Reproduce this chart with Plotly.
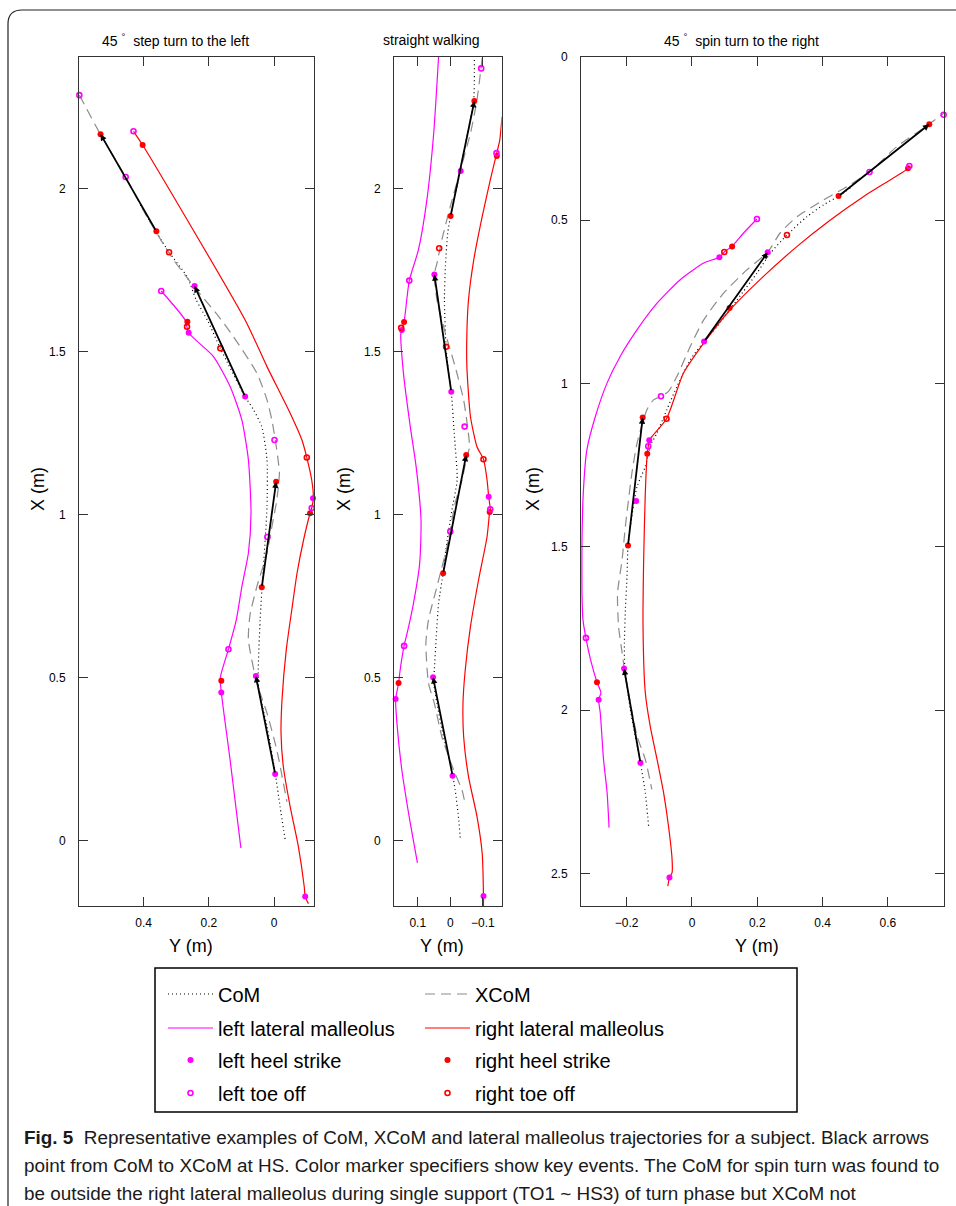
import plotly.graph_objects as go

# ---------------- Panel 1: 45° step turn to the left ----------------
p1_com_X = [1.951, 1.864, 1.806, 1.731, 1.660, 1.592, 1.511, 1.363, 1.322, 1.271, 1.169, 1.025, 0.841, 0.678, 0.473, 0.351, 0.208, 0.105, 0.001]
p1_com_Y = [0.410, 0.359, 0.322, 0.267, 0.239, 0.202, 0.165, 0.089, 0.063, 0.038, 0.022, 0.022, 0.033, 0.043, 0.048, 0.022, -0.003, -0.018, -0.034]
p1_xcom_X = [2.288, 2.169, 2.037, 1.915, 1.782, 1.690, 1.610, 1.547, 1.435, 1.353, 1.291, 1.199, 1.128, 1.046, 0.964, 0.883, 0.780, 0.693, 0.617, 0.484, 0.392, 0.279, 0.120]
p1_xcom_Y = [0.597, 0.533, 0.455, 0.390, 0.308, 0.237, 0.171, 0.125, 0.053, 0.022, 0.007, -0.008, -0.016, -0.008, 0.007, 0.022, 0.053, 0.074, 0.079, 0.053, 0.022, -0.008, -0.039]
p1_lm_X = [1.687, 1.598, 1.559, 1.486, 1.394, 1.291, 1.169, 1.005, 0.883, 0.780, 0.678, 0.588, 0.501, 0.455, 0.248, -0.022]
p1_lm_Y = [0.346, 0.273, 0.262, 0.186, 0.135, 0.099, 0.079, 0.071, 0.079, 0.099, 0.116, 0.140, 0.165, 0.162, 0.135, 0.102]
p1_rm_X = [2.177, 2.135, 1.598, 1.455, 1.312, 1.230, 1.176, 1.107, 1.051, 1.021, 1.005, 0.923, 0.821, 0.709, 0.586, 0.433, 0.330, 0.228, 0.105, -0.017, -0.140, -0.171, -0.193]
p1_rm_Y = [0.431, 0.403, 0.089, 0.022, -0.049, -0.085, -0.100, -0.115, -0.120, -0.115, -0.110, -0.090, -0.070, -0.054, -0.037, -0.024, -0.021, -0.028, -0.049, -0.074, -0.092, -0.095, -0.105]
p1_arrow_tail_X = [1.870, 1.363, 0.778, 0.205]
p1_arrow_tail_Y = [0.361, 0.089, 0.038, -0.003]
p1_arrow_head_X = [2.168, 1.702, 1.102, 0.506]
p1_arrow_head_Y = [0.532, 0.244, -0.006, 0.056]
p1_lhs_X = [1.702, 1.363, 1.051, 1.559, 0.455, 0.506, 0.205, -0.171]
p1_lhs_Y = [0.244, 0.089, -0.119, 0.262, 0.162, 0.056, -0.003, -0.095]
p1_lto_X = [2.288, 2.177, 1.687, 2.037, 1.230, 0.932, 1.021, 0.588]
p1_lto_Y = [0.597, 0.431, 0.346, 0.455, -0.001, 0.021, -0.115, 0.140]
p1_rhs_X = [2.168, 2.135, 1.870, 1.593, 1.102, 0.778, 1.005, 0.491]
p1_rhs_Y = [0.532, 0.403, 0.361, 0.266, -0.006, 0.038, -0.110, 0.162]
p1_rto_X = [1.806, 1.577, 1.511, 1.176]
p1_rto_Y = [0.322, 0.267, 0.165, -0.100]

# ---------------- Panel 2: straight walking ----------------
p2_com_X = [2.396, 2.273, 2.150, 2.028, 1.917, 1.864, 1.762, 1.660, 1.516, 1.435, 1.378, 1.251, 1.107, 1.015, 0.883, 0.821, 0.729, 0.627, 0.525, 0.484, 0.422, 0.320, 0.238, 0.156, 0.064, 0.003]
p2_com_Y = [-0.074, -0.072, -0.049, -0.025, -0.001, 0.008, 0.015, 0.018, 0.013, 0.005, -0.003, -0.012, -0.021, -0.005, 0.015, 0.022, 0.036, 0.043, 0.049, 0.051, 0.041, 0.021, 0.000, -0.015, -0.026, -0.031]
p2_xcom_X = [2.401, 2.273, 2.171, 2.058, 1.946, 1.844, 1.772, 1.738, 1.660, 1.557, 1.455, 1.353, 1.271, 1.209, 1.169, 1.107, 1.036, 0.903, 0.780, 0.678, 0.606, 0.484, 0.422, 0.320, 0.218, 0.156, 0.126]
p2_xcom_Y = [-0.098, -0.082, -0.062, -0.031, 0.000, 0.026, 0.041, 0.049, 0.041, 0.015, -0.015, -0.041, -0.053, -0.059, -0.049, -0.036, -0.015, 0.010, 0.041, 0.067, 0.075, 0.067, 0.049, 0.026, -0.010, -0.036, -0.043]
p2_lm_X = [2.406, 2.171, 1.966, 1.813, 1.719, 1.592, 1.567, 1.557, 1.435, 1.271, 1.148, 0.985, 0.852, 0.729, 0.657, 0.598, 0.525, 0.484, 0.458, 0.435, 0.361, 0.218, 0.054, -0.068]
p2_lm_Y = [0.036, 0.051, 0.072, 0.098, 0.126, 0.142, 0.149, 0.152, 0.144, 0.123, 0.105, 0.090, 0.094, 0.113, 0.128, 0.142, 0.154, 0.159, 0.164, 0.168, 0.164, 0.149, 0.123, 0.101]
p2_rm_X = [2.222, 2.150, 2.107, 2.028, 1.915, 1.782, 1.660, 1.557, 1.455, 1.302, 1.209, 1.171, 1.107, 1.056, 1.017, 1.009, 0.933, 0.801, 0.657, 0.525, 0.422, 0.320, 0.197, 0.075, -0.038, -0.169, -0.202]
p2_rm_Y = [-0.159, -0.152, -0.142, -0.123, -0.098, -0.072, -0.056, -0.051, -0.051, -0.062, -0.082, -0.102, -0.113, -0.118, -0.123, -0.121, -0.113, -0.087, -0.062, -0.046, -0.039, -0.041, -0.056, -0.082, -0.098, -0.102, -0.102]
p2_arrow_tail_X = [1.917, 1.378, 0.821, 0.200]
p2_arrow_tail_Y = [-0.001, -0.003, 0.022, -0.007]
p2_arrow_head_X = [2.270, 1.738, 1.184, 0.502]
p2_arrow_head_Y = [-0.074, 0.049, -0.049, 0.053]
p2_lhs_X = [2.055, 1.738, 1.378, 1.567, 1.056, 0.502, 0.200, 0.435, -0.169]
p2_lhs_Y = [-0.032, 0.049, -0.003, 0.149, -0.118, 0.053, -0.007, 0.168, -0.102]
p2_lto_X = [2.370, 1.719, 1.271, 2.110, 0.949, 1.017, 0.598]
p2_lto_Y = [-0.095, 0.126, -0.044, -0.142, 0.000, -0.123, 0.142]
p2_rhs_X = [2.270, 1.917, 2.101, 1.592, 1.184, 0.821, 1.009, 0.484]
p2_rhs_Y = [-0.074, -0.001, -0.143, 0.142, -0.049, 0.022, -0.121, 0.159]
p2_rto_X = [1.818, 1.574, 1.516, 1.171]
p2_rto_Y = [0.034, 0.151, 0.013, -0.102]

# ---------------- Panel 3: 45° spin turn to the right ----------------
p3_com_X = [0.401, 0.426, 0.453, 0.489, 0.545, 0.601, 0.662, 0.744, 0.825, 0.871, 0.927, 1.009, 1.080, 1.151, 1.192, 1.254, 1.315, 1.437, 1.496, 1.590, 1.692, 1.794, 1.866, 1.998, 2.161, 2.253, 2.355]
p3_com_Y = [0.485, 0.449, 0.403, 0.352, 0.291, 0.240, 0.199, 0.138, 0.077, 0.037, -0.005, -0.046, -0.077, -0.107, -0.128, -0.143, -0.168, -0.189, -0.196, -0.199, -0.204, -0.207, -0.206, -0.189, -0.158, -0.143, -0.133]
p3_xcom_X = [0.162, 0.218, 0.274, 0.352, 0.397, 0.438, 0.489, 0.539, 0.598, 0.652, 0.723, 0.805, 0.886, 0.978, 1.024, 1.039, 1.050, 1.080, 1.182, 1.274, 1.437, 1.539, 1.641, 1.743, 1.825, 1.896, 2.080, 2.151, 2.243]
p3_xcom_Y = [0.786, 0.709, 0.628, 0.544, 0.475, 0.403, 0.322, 0.270, 0.232, 0.168, 0.097, 0.036, -0.005, -0.046, -0.072, -0.095, -0.118, -0.138, -0.168, -0.184, -0.204, -0.214, -0.228, -0.225, -0.214, -0.204, -0.168, -0.143, -0.123]
p3_lm_X = [0.496, 0.539, 0.580, 0.597, 0.613, 0.631, 0.682, 0.754, 0.835, 0.917, 0.998, 1.101, 1.203, 1.335, 1.488, 1.641, 1.723, 1.779, 1.845, 1.915, 1.947, 1.968, 2.008, 2.151, 2.253, 2.360]
p3_lm_Y = [0.199, 0.158, 0.123, 0.099, 0.084, 0.036, -0.036, -0.107, -0.168, -0.220, -0.260, -0.296, -0.322, -0.333, -0.337, -0.337, -0.334, -0.325, -0.311, -0.291, -0.279, -0.286, -0.281, -0.271, -0.260, -0.254]
p3_rm_X = [0.334, 0.341, 0.427, 0.499, 0.580, 0.672, 0.774, 0.876, 0.968, 1.108, 1.174, 1.192, 1.215, 1.335, 1.539, 1.743, 1.947, 2.049, 2.151, 2.253, 2.355, 2.457, 2.498, 2.513, 2.539]
p3_rm_Y = [0.666, 0.662, 0.526, 0.424, 0.322, 0.219, 0.117, 0.036, -0.026, -0.078, -0.131, -0.134, -0.137, -0.143, -0.148, -0.150, -0.143, -0.128, -0.107, -0.087, -0.072, -0.061, -0.061, -0.069, -0.074]
p3_arrow_tail_X = [0.426, 0.871, 1.496, 2.161]
p3_arrow_tail_Y = [0.449, 0.037, -0.196, -0.158]
p3_arrow_head_X = [0.206, 0.598, 1.104, 1.873]
p3_arrow_head_Y = [0.727, 0.232, -0.151, -0.208]
p3_lhs_X = [0.598, 0.613, 0.871, 1.174, 1.360, 1.873, 2.161, 1.968, 2.513]
p3_lhs_Y = [0.232, 0.084, 0.037, -0.131, -0.171, -0.208, -0.158, -0.286, -0.069]
p3_lto_X = [0.177, 0.352, 0.334, 0.496, 1.039, 1.192, 1.779]
p3_lto_Y = [0.771, 0.544, 0.666, 0.199, -0.095, -0.134, -0.325]
p3_rhs_X = [0.206, 0.426, 0.341, 0.769, 0.580, 1.104, 1.215, 1.496, 1.915]
p3_rhs_Y = [0.727, 0.449, 0.662, 0.115, 0.123, -0.151, -0.137, -0.196, -0.291]
p3_rto_X = [0.545, 0.597, 1.108]
p3_rto_Y = [0.291, 0.099, -0.078]

panel_titles = ["45 <sup>°</sup>  step turn to the left", "straight walking", "45 <sup>°</sup>  spin turn to the right"]
legend_names = ["CoM", "XCoM", "left lateral malleolus", "right lateral malleolus",
                "left heel strike", "right heel strike", "left toe off", "right toe off"]
caption_lines = [
    "<b>Fig. 5</b>  Representative examples of CoM, XCoM and lateral malleolus trajectories for a subject. Black arrows",
    "point from CoM to XCoM at HS. Color marker specifiers show key events. The CoM for spin turn was found to",
    "be outside the right lateral malleolus during single support (TO1 ~ HS3) of turn phase but XCoM not",
]

# ---------------- Figure ----------------
W, H = 956, 1206
MAG, RED = "#FF00FF", "#FF0000"
FONT = "Liberation Sans, Arial, sans-serif"


def px(x):
    return x / W


def py(y):
    return 1 - y / H


fig = go.Figure()

panels = [
    dict(com=(p1_com_X, p1_com_Y), xcom=(p1_xcom_X, p1_xcom_Y), lm=(p1_lm_X, p1_lm_Y), rm=(p1_rm_X, p1_rm_Y),
         tail=(p1_arrow_tail_X, p1_arrow_tail_Y), head=(p1_arrow_head_X, p1_arrow_head_Y),
         lhs=(p1_lhs_X, p1_lhs_Y), lto=(p1_lto_X, p1_lto_Y), rhs=(p1_rhs_X, p1_rhs_Y), rto=(p1_rto_X, p1_rto_Y)),
    dict(com=(p2_com_X, p2_com_Y), xcom=(p2_xcom_X, p2_xcom_Y), lm=(p2_lm_X, p2_lm_Y), rm=(p2_rm_X, p2_rm_Y),
         tail=(p2_arrow_tail_X, p2_arrow_tail_Y), head=(p2_arrow_head_X, p2_arrow_head_Y),
         lhs=(p2_lhs_X, p2_lhs_Y), lto=(p2_lto_X, p2_lto_Y), rhs=(p2_rhs_X, p2_rhs_Y), rto=(p2_rto_X, p2_rto_Y)),
    dict(com=(p3_com_X, p3_com_Y), xcom=(p3_xcom_X, p3_xcom_Y), lm=(p3_lm_X, p3_lm_Y), rm=(p3_rm_X, p3_rm_Y),
         tail=(p3_arrow_tail_X, p3_arrow_tail_Y), head=(p3_arrow_head_X, p3_arrow_head_Y),
         lhs=(p3_lhs_X, p3_lhs_Y), lto=(p3_lto_X, p3_lto_Y), rhs=(p3_rhs_X, p3_rhs_Y), rto=(p3_rto_X, p3_rto_Y)),
]

# one legend per entry so rows/columns match the reference box
legend_ids = {"com": "legend", "xcom": "legend2", "lm": "legend3", "rm": "legend4",
              "lhs": "legend5", "rhs": "legend6", "lto": "legend7", "rto": "legend8"}

annotations = []
for i, p in enumerate(panels):
    xa = "x" if i == 0 else f"x{i+1}"
    ya = "y" if i == 0 else f"y{i+1}"
    show = i == 0

    def add_line(key, name, color, dash, width):
        X, Y = p[key]
        fig.add_trace(go.Scatter(x=Y, y=X, mode="lines", name=name, xaxis=xa, yaxis=ya,
                                 line=dict(color=color, dash=dash, width=width, shape="spline", smoothing=0.6),
                                 showlegend=show, legend=legend_ids[key], hoverinfo="skip"))

    add_line("com", legend_names[0], "black", "1px,3px", 1.2)
    add_line("xcom", legend_names[1], "#8c8c8c", "10px,6px", 1.2)
    add_line("lm", legend_names[2], MAG, "solid", 1.2)
    add_line("rm", legend_names[3], RED, "solid", 1.2)

    # arrows CoM -> XCoM at heel strike
    tX, tY = p["tail"]
    hX, hY = p["head"]
    for k in range(len(tX)):
        annotations.append(dict(x=hY[k], y=hX[k], ax=tY[k], ay=tX[k], xref=xa, yref=ya, axref=xa, ayref=ya,
                                text="", showarrow=True, arrowhead=2, arrowsize=0.7, arrowwidth=1.8,
                                arrowcolor="black", standoff=0, startstandoff=0))

    def add_markers(key, name, color, symbol):
        X, Y = p[key]
        is_open = "open" in symbol
        fig.add_trace(go.Scatter(x=Y, y=X, mode="markers", name=name, xaxis=xa, yaxis=ya, cliponaxis=False,
                                 marker=dict(color=color, symbol=symbol, size=5 if is_open else 6,
                                             line=dict(color=color, width=1.6 if is_open else 0)),
                                 showlegend=show, legend=legend_ids[key], hoverinfo="skip"))

    add_markers("lhs", legend_names[4], MAG, "circle")
    add_markers("rhs", legend_names[5], RED, "circle")
    add_markers("lto", legend_names[6], MAG, "circle-open")
    add_markers("rto", legend_names[7], RED, "circle-open")

axis_common = dict(showline=True, linecolor="#333333", linewidth=1, mirror="ticks", ticks="inside",
                   ticklen=9, tickwidth=1, tickcolor="#333333", showgrid=False, zeroline=False,
                   tickfont=dict(family=FONT, size=12, color="black"))

ydom = [py(906), py(57)]
fig.update_layout(
    xaxis=dict(domain=[px(79), px(314)], range=[0.598, -0.122], dtick=0.2, tick0=0, anchor="y",
               ticklabelstandoff=6, **axis_common),
    yaxis=dict(domain=ydom, range=[-0.2, 2.405], dtick=0.5, tick0=0, anchor="x",
               ticklabelstandoff=10, **axis_common),
    xaxis2=dict(domain=[px(394), px(501.7)], range=[0.173, -0.158], dtick=0.1, tick0=0, anchor="y2",
                ticklabelstandoff=6, **axis_common),
    yaxis2=dict(domain=ydom, range=[-0.2, 2.405], dtick=0.5, tick0=0, anchor="x2",
                ticklabelstandoff=10, **axis_common),
    xaxis3=dict(domain=[px(581), px(944.3)], range=[-0.34, 0.773], dtick=0.2, tick0=0, anchor="y3",
                ticklabelstandoff=6, **axis_common),
    yaxis3=dict(domain=ydom, range=[2.6, 0.0], dtick=0.5, tick0=0, anchor="x3",
                ticklabelstandoff=10, **axis_common),
)

# panel titles
for cx, t in zip([175, 431, 741], panel_titles):
    annotations.append(dict(x=px(cx), y=py(40), xref="paper", yref="paper", text=t, showarrow=False,
                            font=dict(family=FONT, size=14, color="black"), xanchor="center", yanchor="middle"))
# axis titles
for cx in [190.8, 441.7, 756.7]:
    annotations.append(dict(x=px(cx), y=py(946), xref="paper", yref="paper", text="Y (m)", showarrow=False,
                            font=dict(family=FONT, size=18, color="black"), xanchor="center", yanchor="middle"))
for cx in [38, 344, 533]:
    annotations.append(dict(x=px(cx), y=py(489), xref="paper", yref="paper", text="X (m)", showarrow=False,
                            textangle=-90, font=dict(family=FONT, size=18, color="black"),
                            xanchor="center", yanchor="middle"))
# caption
for k, line in enumerate(caption_lines):
    annotations.append(dict(x=px(22), y=py(1137 + 28 * k), xref="paper", yref="paper", text=line,
                            showarrow=False, xanchor="left", yanchor="middle",
                            font=dict(family=FONT, size=18.9, color="#1a1a1a")))

shapes = [
    # legend frame
    dict(type="rect", xref="paper", yref="paper", x0=px(155), x1=px(797), y0=py(1112), y1=py(968),
         line=dict(color="black", width=1.5), fillcolor="rgba(0,0,0,0)"),
    # outer rounded figure frame
    dict(type="path", xref="paper", yref="paper",
         path=(f"M {px(8)},{py(1210)} L {px(8)},{py(24)} Q {px(8)},{py(10)} {px(22)},{py(10)} "
               f"L {px(990)},{py(10)}"),
         line=dict(color="#222222", width=1.2)),
]

legend_font = dict(family=FONT, size=20, color="black")
row_y = [994, 1028, 1060, 1093]
col_x = [163, 420]
legend_layout = {}
order = ["com", "xcom", "lm", "rm", "lhs", "rhs", "lto", "rto"]
for n, key in enumerate(order):
    legend_layout[legend_ids[key]] = dict(
        x=px(col_x[n % 2]), y=py(row_y[n // 2]), xanchor="left", yanchor="middle", font=legend_font,
        bgcolor="rgba(0,0,0,0)", borderwidth=0, itemwidth=45)

fig.update_layout(
    width=W, height=H, autosize=False,
    margin=dict(l=0, r=0, t=0, b=0, autoexpand=False),
    paper_bgcolor="white", plot_bgcolor="white",
    annotations=annotations, shapes=shapes,
    **legend_layout,
)

# remove the default 8px page margin so the 956x1206 figure fills the window exactly
fig.write_html("out.html", config={"displayModeBar": False},
               post_script="document.body.style.margin='0';document.body.style.overflow='hidden';")
